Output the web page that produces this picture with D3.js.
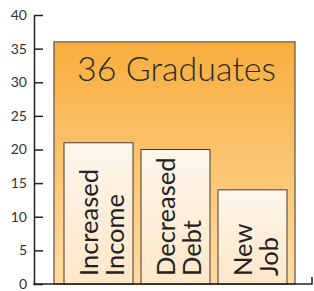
<!DOCTYPE html>
<html>
<head>
<meta charset="utf-8">
<script src="https://cdn.jsdelivr.net/npm/d3@7"></script>
<style>
  body { margin: 0; background: #fff; }
  svg { display: block; }
</style>
</head>
<body>
<div id="chart"></div>
<script>
// data
var total = 36;
var totalLabel = 'Graduates';
var categories = [['Increased', 'Income'], ['Decreased', 'Debt'], ['New', 'Job']];
var values = [21, 20, 14];
var yTicks = [0, 5, 10, 15, 20, 25, 30, 35, 40];

var width = 314, height = 291;

var svg = d3.select('#chart')
    .append('svg')
    .attr('width', width)
    .attr('height', height);

var defs = svg.append('defs');
var gBig = defs.append('linearGradient')
    .attr('id', 'gradBig').attr('x1', 0).attr('y1', 0).attr('x2', 0).attr('y2', 1);
gBig.append('stop').attr('offset', '0%').attr('stop-color', '#f8ad3c');
gBig.append('stop').attr('offset', '100%').attr('stop-color', '#fedca5');
var gSmall = defs.append('linearGradient')
    .attr('id', 'gradSmall').attr('x1', 0).attr('y1', 0).attr('x2', 0).attr('y2', 1);
gSmall.append('stop').attr('offset', '0%').attr('stop-color', '#fdf6ec');
gSmall.append('stop').attr('offset', '100%').attr('stop-color', '#fde7c8');

var y = d3.scaleLinear().domain([0, 40]).range([284, 15]);

var x = d3.scaleBand()
    .domain(categories.map(function (d) { return d.join(' '); }))
    .range([64, 287])
    .paddingInner(8 / 77)
    .paddingOuter(0);

// big total bar around the three bars
var bigX0 = x.range()[0] - 10, bigX1 = x.range()[1] + 8;
svg.append('rect')
    .attr('x', bigX0)
    .attr('y', y(total))
    .attr('width', bigX1 - bigX0)
    .attr('height', y(0) - y(total))
    .attr('fill', 'url(#gradBig)')
    .attr('stroke', '#6e5a44')
    .attr('stroke-width', 1.3);

svg.append('text')
    .text(total + ' ' + totalLabel)
    .attr('x', (bigX0 + bigX1) / 2 + 2)
    .attr('y', 81)
    .attr('text-anchor', 'middle')
    .style('font-family', 'Lato, sans-serif')
    .style('font-weight', 300)
    .style('font-size', '34px')
    .style('fill', '#2b2b2b');

var groups = svg.selectAll('g.bar')
    .data(values)
    .enter()
    .append('g')
    .attr('class', 'bar');

groups.append('rect')
    .attr('x', function (d, i) { return x(categories[i].join(' ')); })
    .attr('y', function (d) { return y(d); })
    .attr('width', x.bandwidth())
    .attr('height', function (d) { return y(0) - y(d); })
    .attr('fill', 'url(#gradSmall)')
    .attr('stroke', '#4d3b2a')
    .attr('stroke-width', 1);

var labels = groups.append('text')
    .attr('transform', function (d, i) {
        var cx = x(categories[i].join(' ')) + x.bandwidth() / 2;
        return 'translate(' + [cx, 276] + ') rotate(-90)';
    })
    .style('font-family', 'Lato, sans-serif')
    .style('font-size', '25.5px')
    .style('fill', '#222');

labels.selectAll('tspan')
    .data(function (d, i) { return categories[i]; })
    .enter()
    .append('tspan')
    .attr('x', 0)
    .attr('y', function (d, j) { return j * 26 - 1; })
    .text(function (d) { return d; });

// y axis, ticks pointing inward
var yAxis = d3.axisLeft(y)
    .tickValues(yTicks)
    .tickSize(-9)
    .tickSizeOuter(0)
    .tickPadding(7);

var ga = svg.append('g')
    .attr('transform', 'translate(34,0)')
    .call(yAxis);
ga.select('.domain').attr('stroke', '#222').attr('stroke-width', 1.5);
ga.selectAll('.tick line').attr('stroke', '#222').attr('stroke-width', 1.5);
ga.selectAll('.tick text')
    .style('font-family', 'Lato, sans-serif')
    .style('font-size', '14px')
    .style('fill', '#333');

// baseline with end tick
svg.append('path')
    .attr('d', 'M33.25,' + y(0) + 'H312V' + (y(0) - 7))
    .attr('fill', 'none')
    .attr('stroke', '#222')
    .attr('stroke-width', 1.5);
</script>
</body>
</html>
